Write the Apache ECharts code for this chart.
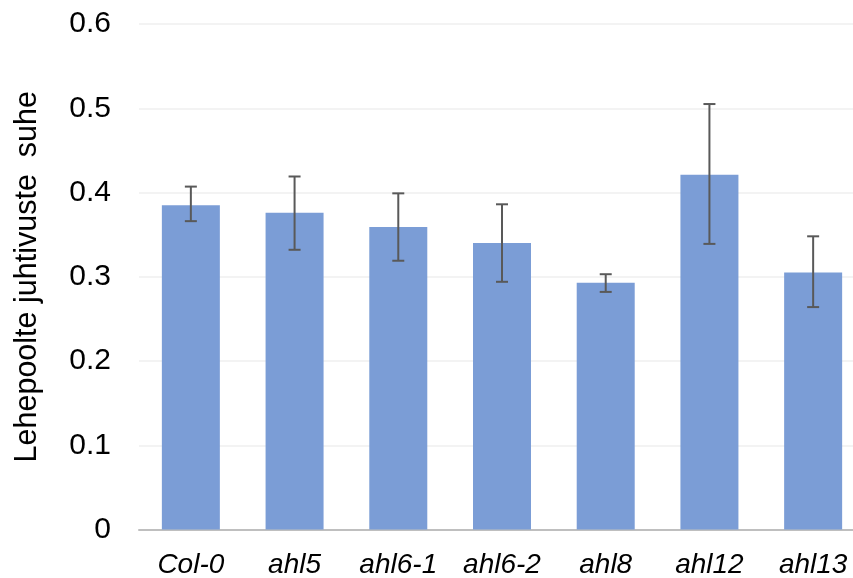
<!DOCTYPE html>
<html><head><meta charset="utf-8">
<script src="https://cdn.jsdelivr.net/npm/echarts@6/dist/echarts.min.js"></script>
<style>html,body{margin:0;padding:0;background:#fff}#c{width:853px;height:578px}</style>
</head><body><div id="c"></div>
<script>
var categories = ['Col-0', 'ahl5', 'ahl6-1', 'ahl6-2', 'ahl8', 'ahl12', 'ahl13'];
var means = [0.385, 0.376, 0.359, 0.340, 0.293, 0.421, 0.305];
var errLow = [0.366, 0.332, 0.319, 0.294, 0.282, 0.339, 0.264];
var errHigh = [0.407, 0.419, 0.399, 0.386, 0.303, 0.505, 0.348];
var yTicks = [0, 0.1, 0.2, 0.3, 0.4, 0.5, 0.6];

var errData = categories.map(function (c, i) { return [i, errLow[i], errHigh[i]]; });
var chart = echarts.init(document.getElementById('c'));
var font = '"Liberation Sans", Arial, sans-serif';
chart.setOption({
  animation: false,
  grid: { left: 139, top: 24, bottom: 48.5, right: -12, outerBoundsMode: 'none', containLabel: false },
  xAxis: {
    type: 'category', data: categories,
    axisLine: { lineStyle: { color: '#BFBFBF', width: 2 } },
    axisTick: { show: false },
    axisLabel: { fontFamily: font, fontSize: 28, fontStyle: 'italic', color: '#000', margin: 22 }
  },
  yAxis: {
    type: 'value', min: 0, max: 0.6, interval: 0.1,
    name: 'Lehepoolte juhtivuste  suhe', nameLocation: 'middle', nameGap: 96,
    nameTextStyle: { fontFamily: font, fontSize: 30.5, color: '#000' },
    axisLine: { show: false }, axisTick: { show: false },
    axisLabel: {
      fontFamily: font, fontSize: 30, color: '#000', margin: 28,
      formatter: function (v) { var t = yTicks.find(function (x) { return Math.abs(x - v) < 1e-9; }); return t === undefined ? '' : String(t); }
    },
    splitLine: { lineStyle: { color: '#EFEFEF', width: 1.5 } }
  },
  series: [
    { type: 'bar', data: means, barWidth: 58, itemStyle: { color: '#7B9DD6' } },
    {
      type: 'custom', data: errData, z: 10,
      renderItem: function (params, api) {
        var x = api.value(0);
        var lo = api.coord([x, api.value(1)]);
        var hi = api.coord([x, api.value(2)]);
        var hw = 6;
        var st = { stroke: '#595959', lineWidth: 2 };
        return { type: 'group', children: [
          { type: 'line', shape: { x1: lo[0], y1: lo[1], x2: hi[0], y2: hi[1] }, style: st },
          { type: 'line', shape: { x1: lo[0] - hw, y1: lo[1], x2: lo[0] + hw, y2: lo[1] }, style: st },
          { type: 'line', shape: { x1: hi[0] - hw, y1: hi[1], x2: hi[0] + hw, y2: hi[1] }, style: st }
        ] };
      }
    }
  ]
});
</script></body></html>
